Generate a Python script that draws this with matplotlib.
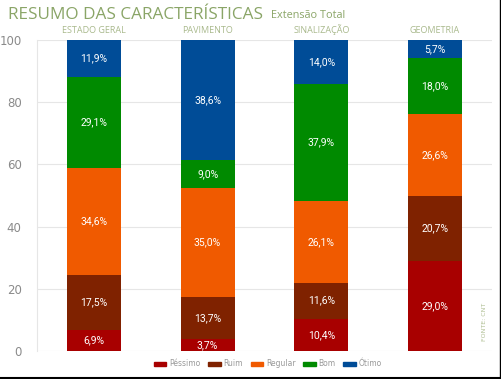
import numpy as np
import matplotlib.pyplot as plt
from matplotlib.lines import Line2D

categorias = ['ESTADO GERAL', 'PAVIMENTO', 'SINALIZAÇÃO', 'GEOMETRIA']
niveis = ['Péssimo', 'Ruim', 'Regular', 'Bom', 'Ótimo']
pessimo = [6.9, 3.7, 10.4, 29.0]
ruim = [17.5, 13.7, 11.6, 20.7]
regular = [34.6, 35.0, 26.1, 26.6]
bom = [29.1, 9.0, 37.9, 18.0]
otimo = [11.9, 38.6, 14.0, 5.7]
cores = ['#a80000', '#7f2200', '#f05a00', '#008a00', '#004c97']

series = [pessimo, ruim, regular, bom, otimo]

fig = plt.figure(figsize=(5.01, 3.79), dpi=100)
ax = fig.add_axes([37 / 501, 28 / 379, 455 / 501, 311 / 379])

x = np.arange(len(categorias))
base = np.zeros(len(categorias))
for nome, vals, cor in zip(niveis, series, cores):
    vals = np.array(vals)
    ax.bar(x, vals, width=0.475, bottom=base, color=cor, label=nome, zorder=3)
    for xi, b, v in zip(x, base, vals):
        rotulo = f'{v:.1f}'.replace('.', ',') + '%'
        ax.text(xi, b + v / 2, rotulo, ha='center', va='center',
                color='white', fontsize=7.5, family='Roboto', zorder=4)
    base += vals

ax.set_xlim(-0.5, len(categorias) - 0.5)
ax.set_ylim(0, 100)
ax.set_yticks([0, 20, 40, 60, 80, 100])
ax.tick_params(axis='y', length=0, labelsize=8.5, labelcolor='#8a8a8a', pad=11)
ax.set_xticks([])
ax.grid(axis='y', color='#e6e6e6', linewidth=0.8, zorder=0)
for s in ['top', 'right', 'bottom']:
    ax.spines[s].set_visible(False)
ax.spines['left'].set_color('#e6e6e6')

for xi, c in zip(x, categorias):
    ax.text(xi, 101.5, c, ha='center', va='bottom', fontsize=6.5, color='#a9b98c',
            family='Open Sans')

fig.text(8 / 501, 1 - 15 / 379, 'RESUMO DAS CARACTERÍSTICAS', fontsize=12.3,
         color='#8aa567', family='Open Sans', va='center', ha='left')
fig.text(271 / 501, 1 - 15 / 379, 'Extensão Total', fontsize=7.8,
         color='#8aa567', family='Open Sans', va='center', ha='left')
fig.text(484 / 501, 1 - 322 / 379, 'FONTE: CNT', fontsize=4.5, color='#b0bf94',
         rotation=90, ha='center', va='center')

handles = [plt.Rectangle((0, 0), 1, 1, color=c) for c in cores]
fig.legend(handles, niveis, loc='center', bbox_to_anchor=(268 / 501, 1 - 364 / 379),
           ncol=5, frameon=False, fontsize=5.5, handlelength=1.6, handleheight=0.5,
           handletextpad=0.4, columnspacing=1.0, labelcolor='#999999')

fig.add_artist(Line2D([0, 1], [1 / 379, 1 / 379], color='black', linewidth=1.5,
                      transform=fig.transFigure))
fig.add_artist(Line2D([1 - 1 / 501, 1 - 1 / 501], [0, 1], color='black', linewidth=1,
                      transform=fig.transFigure))

fig.savefig('out.png', dpi=100)
